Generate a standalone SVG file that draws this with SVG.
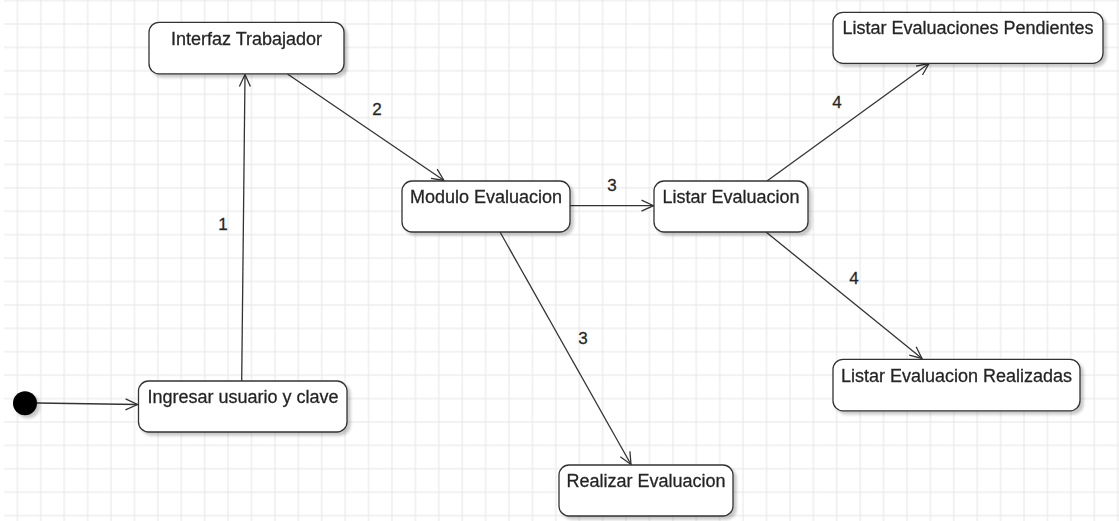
<svg xmlns="http://www.w3.org/2000/svg" width="1119" height="521" viewBox="0 0 1119 521">
  <defs>
    <pattern id="grid" patternUnits="userSpaceOnUse" x="5.7" y="12.3" width="23.41" height="23.41">
      <path d="M11.7 0V23.41M0 11.7H23.41" stroke="#e6e6e6" stroke-width="1" fill="none"/>
    </pattern>
    <filter id="shadow" x="-10%" y="-20%" width="130%" height="160%">
      <feGaussianBlur in="SourceAlpha" stdDeviation="1.6"/>
      <feOffset dx="3" dy="3" result="off"/>
      <feComponentTransfer><feFuncA type="linear" slope="0.22"/></feComponentTransfer>
      <feMerge><feMergeNode/><feMergeNode in="SourceGraphic"/></feMerge>
    </filter>
    <marker id="open" markerUnits="userSpaceOnUse" markerWidth="16" markerHeight="16" viewBox="-13 -8 16 16" refX="0" refY="0" orient="auto">
      <path d="M-12,-5.5 L0,0 L-12,5.5" fill="none" stroke="#333" stroke-width="1.3"/>
    </marker>
  </defs>
  <style>
    .node rect { fill: #ffffff; stroke: #333333; stroke-width: 1.3; }
    .node text, .lbl { font-family: "Liberation Sans", Arial, sans-serif; fill: #222222; stroke: #333333; stroke-width: 0.3; }
    .node text { font-size: 18px; text-anchor: middle; }
    .lbl { font-size: 17px; text-anchor: middle; }
    .edge { stroke: #333333; stroke-width: 1.3; fill: none; marker-end: url(#open); }
  </style>

  <!-- canvas with light grid -->
  <rect x="4" y="0" width="1115" height="521" fill="#ffffff"/>
  <rect x="4" y="0" width="1115" height="521" fill="url(#grid)"/>

  <g id="connectors">
    <line class="edge" x1="37" y1="403" x2="137.5" y2="404.5"/>
    <line class="edge" x1="241.7" y1="381" x2="245" y2="74.5"/>
    <line class="edge" x1="287.5" y1="74" x2="444" y2="180.5"/>
    <line class="edge" x1="570" y1="205.7" x2="653.5" y2="205.7"/>
    <line class="edge" x1="500" y1="232" x2="631" y2="464.5"/>
    <line class="edge" x1="767" y1="181" x2="929" y2="63.5"/>
    <line class="edge" x1="766" y1="232" x2="922" y2="358.5"/>
    <text class="lbl" x="223" y="229.5">1</text>
    <text class="lbl" x="377" y="114.5">2</text>
    <text class="lbl" x="612" y="190.5">3</text>
    <text class="lbl" x="583" y="344">3</text>
    <text class="lbl" x="837" y="107.5">4</text>
    <text class="lbl" x="854" y="283.5">4</text>
  </g>

  <g id="start" filter="url(#shadow)">
    <circle cx="25" cy="403.3" r="12" fill="#000000"/>
  </g>

  <g id="ingresar" class="node" filter="url(#shadow)">
    <rect x="138.5" y="381" width="208.5" height="51" rx="10"/>
    <text x="243" y="403">Ingresar usuario y clave</text>
  </g>

  <g id="interfaz" class="node" filter="url(#shadow)">
    <rect x="149" y="22.3" width="195" height="51.5" rx="10"/>
    <text x="246.5" y="44.5">Interfaz Trabajador</text>
  </g>

  <g id="modulo" class="node" filter="url(#shadow)">
    <rect x="402" y="181" width="168" height="51" rx="10"/>
    <text x="486" y="202.5">Modulo Evaluacion</text>
  </g>

  <g id="listar" class="node" filter="url(#shadow)">
    <rect x="654" y="181" width="154" height="51" rx="10"/>
    <text x="731" y="202.5">Listar Evaluacion</text>
  </g>

  <g id="realizar" class="node" filter="url(#shadow)">
    <rect x="559" y="465" width="174" height="51" rx="10"/>
    <text x="646" y="486.7">Realizar Evaluacion</text>
  </g>

  <g id="pendientes" class="node" filter="url(#shadow)">
    <rect x="833" y="12.3" width="270" height="51" rx="10"/>
    <text x="968" y="34.3">Listar Evaluaciones Pendientes</text>
  </g>

  <g id="realizadas" class="node" filter="url(#shadow)">
    <rect x="833" y="359.3" width="247" height="51.5" rx="10"/>
    <text x="956.5" y="382.3">Listar Evaluacion Realizadas</text>
  </g>
</svg>
